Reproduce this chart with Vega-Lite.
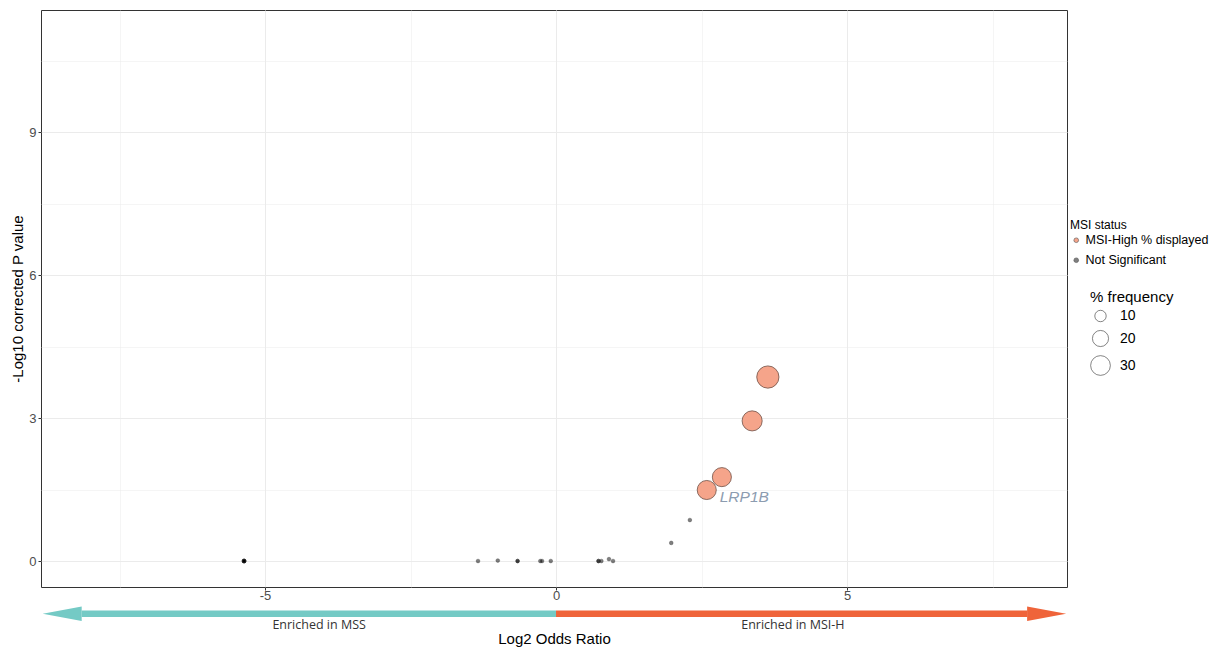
{
  "$schema": "https://vega.github.io/schema/vega-lite/v6.json",
  "autosize": {"type": "none"},
  "padding": {"left": 41, "top": 10, "right": 154, "bottom": 63},
  "width": 1026,
  "height": 577,
  "config": {
    "font": "Liberation Sans",
    "view": {"stroke": "#333333", "strokeWidth": 1},
    "axis": {
      "domain": false,
      "gridColor": "#ebebeb",
      "labelColor": "#4d4d4d",
      "labelFontSize": 13,
      "labelFont": "Liberation Sans",
      "titleFont": "Liberation Sans",
      "titleFontSize": 15,
      "titleFontWeight": "normal",
      "titleColor": "#000000",
      "tickSize": 3,
      "labelOverlap": false
    }
  },
  "datasets": {
    "genes": [
      {"log2or": 3.64, "neglogp": 3.86, "freq": 38, "status": "MSI-High % displayed", "gene": null},
      {"log2or": 3.37, "neglogp": 2.94, "freq": 31, "status": "MSI-High % displayed", "gene": null},
      {"log2or": 2.85, "neglogp": 1.76, "freq": 28, "status": "MSI-High % displayed", "gene": null},
      {"log2or": 2.59, "neglogp": 1.49, "freq": 28, "status": "MSI-High % displayed", "gene": "LRP1B"}
    ],
    "ns": [
      {"log2or": -5.36, "neglogp": 0.0, "status": "Not Significant"},
      {"log2or": -5.36, "neglogp": 0.0, "status": "Not Significant"},
      {"log2or": -5.36, "neglogp": 0.0, "status": "Not Significant"},
      {"log2or": -5.36, "neglogp": 0.0, "status": "Not Significant"},
      {"log2or": -5.36, "neglogp": 0.0, "status": "Not Significant"},
      {"log2or": -5.36, "neglogp": 0.0, "status": "Not Significant"},
      {"log2or": -1.34, "neglogp": 0.0, "status": "Not Significant"},
      {"log2or": -1.0, "neglogp": 0.01, "status": "Not Significant"},
      {"log2or": -0.66, "neglogp": 0.0, "status": "Not Significant"},
      {"log2or": -0.66, "neglogp": 0.0, "status": "Not Significant"},
      {"log2or": -0.27, "neglogp": 0.0, "status": "Not Significant"},
      {"log2or": -0.24, "neglogp": 0.0, "status": "Not Significant"},
      {"log2or": -0.09, "neglogp": 0.0, "status": "Not Significant"},
      {"log2or": 0.73, "neglogp": 0.0, "status": "Not Significant"},
      {"log2or": 0.73, "neglogp": 0.0, "status": "Not Significant"},
      {"log2or": 0.78, "neglogp": 0.0, "status": "Not Significant"},
      {"log2or": 0.91, "neglogp": 0.04, "status": "Not Significant"},
      {"log2or": 0.98, "neglogp": 0.0, "status": "Not Significant"},
      {"log2or": 1.98, "neglogp": 0.38, "status": "Not Significant"},
      {"log2or": 2.3, "neglogp": 0.86, "status": "Not Significant"}
    ],
    "arrows": [
      {"side": "MSS", "from": 0, "to": -8.15, "head": -8.485, "label": "Enriched in MSS", "mid": -4.07},
      {"side": "MSI-H", "from": 0, "to": 8.1, "head": 8.43, "label": "Enriched in MSI-H", "mid": 4.07}
    ]
  },
  "layer": [
    {
      "data": {"name": "ns"},
      "mark": {"type": "point", "filled": true, "size": 14, "fill": "#000000", "stroke": "#333333", "strokeWidth": 0.5, "strokeOpacity": 0.7, "fillOpacity": 0.5},
      "encoding": {
        "x": {
          "field": "log2or", "type": "quantitative",
          "scale": {"domain": [-8.849, 8.78], "nice": false, "zero": false},
          "axis": {
            "title": "Log2 Odds Ratio",
            "values": [-7.5, -5, -2.5, 0, 2.5, 5, 7.5],
            "labelExpr": "datum.value % 5 === 0 ? '' + datum.value : ''",
            "tickColor": {"condition": {"test": "datum.value % 5 !== 0", "value": "transparent"}, "value": "#333333"},
            "gridWidth": {"condition": {"test": "datum.value % 5 !== 0", "value": 0.5}, "value": 1},
            "labelPadding": -1,
            "titlePadding": 29
          }
        },
        "y": {
          "field": "neglogp", "type": "quantitative",
          "scale": {"domain": [-0.545, 11.56], "nice": false, "zero": false},
          "axis": {
            "title": "-Log10 corrected P value",
            "values": [0, 1.5, 3, 4.5, 6, 7.5, 9, 10.5],
            "labelExpr": "datum.value % 3 === 0 ? '' + datum.value : ''",
            "tickColor": {"condition": {"test": "datum.value % 3 !== 0", "value": "transparent"}, "value": "#333333"},
            "gridWidth": {"condition": {"test": "datum.value % 3 !== 0", "value": 0.5}, "value": 1},
            "labelPadding": 2,
            "titlePadding": 3
          }
        }
      }
    },
    {
      "data": {"name": "genes"},
      "mark": {"type": "point", "filled": true, "stroke": "#6e5046", "strokeWidth": 0.8, "fillOpacity": 1},
      "encoding": {
        "x": {"field": "log2or", "type": "quantitative"},
        "y": {"field": "neglogp", "type": "quantitative"},
        "color": {
          "field": "status", "type": "nominal",
          "scale": {"domain": ["MSI-High % displayed", "Not Significant"], "range": ["#f5a48a", "#808080"]},
          "legend": {
            "title": "MSI status",
            "orient": "none", "legendX": 1029, "legendY": 210,
            "padding": 0,
            "titleFontSize": 12, "titleFontWeight": "normal", "titleColor": "#000000", "titlePadding": 2,
            "labelFontSize": 12.5, "labelColor": "#000000", "labelOffset": 3,
            "symbolType": "circle", "symbolSize": 22, "symbolStrokeColor": "#555555", "symbolStrokeWidth": 0.6,
            "rowPadding": 7
          }
        },
        "size": {
          "field": "freq", "type": "quantitative",
          "scale": {"domain": [0, 40], "range": [0, 520]},
          "legend": {
            "title": "% frequency",
            "values": [10, 20, 30],
            "orient": "none", "legendX": 1049, "legendY": 280,
            "padding": 0,
            "titleFontSize": 15, "titleFontWeight": "normal", "titleColor": "#000000", "titlePadding": 4,
            "labelFontSize": 14, "labelColor": "#000000", "labelOffset": 9,
            "symbolType": "circle", "symbolFillColor": "#ffffff", "symbolStrokeColor": "#333333", "symbolStrokeWidth": 0.6,
            "rowPadding": 6
          }
        }
      }
    },
    {
      "data": {"name": "genes"},
      "transform": [{"filter": "datum.gene != null"}],
      "mark": {"type": "text", "align": "left", "baseline": "middle", "dx": 13, "dy": 7, "fontStyle": "italic", "fontSize": 15.5, "color": "#8c9cb0", "font": "Liberation Sans"},
      "encoding": {
        "x": {"field": "log2or", "type": "quantitative"},
        "y": {"field": "neglogp", "type": "quantitative"},
        "text": {"field": "gene"}
      }
    },
    {
      "data": {"name": "arrows"},
      "mark": {"type": "rule", "strokeWidth": 6.5, "strokeCap": "butt"},
      "encoding": {
        "x": {"field": "from", "type": "quantitative"},
        "x2": {"field": "to"},
        "y": {"datum": -1.106, "type": "quantitative"},
        "color": {"condition": {"test": "datum.side === 'MSS'", "value": "#74cac5"}, "value": "#ef643a"}
      }
    },
    {
      "data": {"name": "arrows"},
      "mark": {"type": "point", "filled": true, "size": 1521, "strokeWidth": 0, "opacity": 1},
      "encoding": {
        "x": {"field": "head", "type": "quantitative"},
        "y": {"datum": -1.106, "type": "quantitative"},
        "shape": {"condition": {"test": "datum.side === 'MSS'", "value": "M -1 0 L 1 -0.367 L 1 0.367 Z"}, "value": "M 1 0 L -1 -0.367 L -1 0.367 Z"},
        "color": {"condition": {"test": "datum.side === 'MSS'", "value": "#74cac5"}, "value": "#ef643a"}
      }
    },
    {
      "data": {"name": "arrows"},
      "mark": {"type": "text", "align": "center", "baseline": "middle", "fontSize": 12.5, "font": "Open Sans", "color": "#333333"},
      "encoding": {
        "x": {"field": "mid", "type": "quantitative"},
        "y": {"datum": -1.343, "type": "quantitative"},
        "text": {"field": "label"}
      }
    }
  ]
}
